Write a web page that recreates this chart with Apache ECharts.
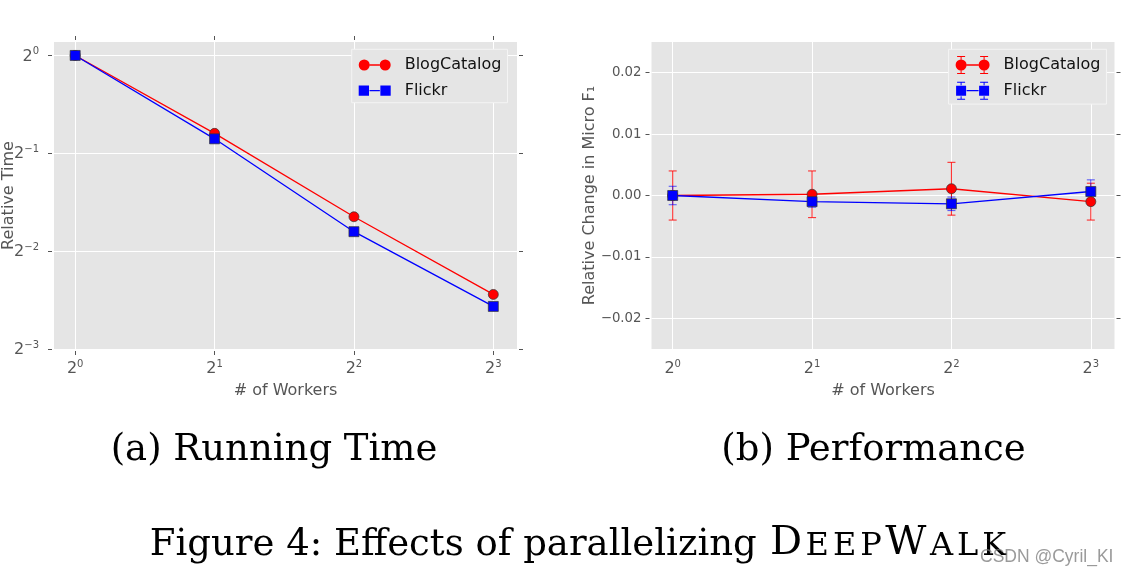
<!DOCTYPE html>
<html><head><meta charset="utf-8">
<script src="https://cdn.jsdelivr.net/npm/echarts@6/dist/echarts.min.js"></script>
<style>html,body{margin:0;padding:0;background:#fff}#c{width:1142px;height:578px}</style>
</head><body><div id="c"></div>
<script>
// ---------- data ----------
const workers = [1, 2, 4, 8];
const xTicks = [1, 2, 4, 8];
const timeTicks = [0.125, 0.25, 0.5, 1];
const f1Ticks = [-0.02, -0.01, 0, 0.01, 0.02];
const seriesNames = ['BlogCatalog', 'Flickr'];
const timeBlogCatalog = [1, 0.576, 0.319, 0.184];
const timeFlickr = [1, 0.554, 0.287, 0.169];
const f1BlogCatalog = [0, 0.0002, 0.0011, -0.0010];
const f1BlogCatalogErr = [0.0040, 0.0038, 0.0043, 0.0030];
const f1Flickr = [0, -0.0010, -0.00135, 0.00065];
const f1FlickrErr = [0.0015, 0.0009, 0.0011, 0.0019];
const panelCaptions = ['(a) Running Time', '(b) Performance'];
const xName = '# of Workers';
const yNames = ['Relative Time', 'Relative Change in Micro F\u2081'];
const figCaption = '{m|Figure 4: Effects of parallelizing }{c|D}{s|E}{s|E}{s|P}{c|W}{s|A}{s|L}{s|K}';
const watermark = 'CSDN @Cyril_KI';

// ---------- style ----------
const FONT = '"DejaVu Sans", sans-serif';
const SERIF = '"DejaVu Serif", serif';
const GRAY = '#555';
const RED = '#ff0000', BLUE = '#0000ff';

const pow2 = v => {
  const e = Math.round(Math.log2(v));
  return '{b|2}{s|' + (e < 0 ? '\u2212' + (-e) : e) + '}';
};
const powRich = {
  b: { fontSize: 16, color: GRAY, fontFamily: FONT, padding: [2, 0, 0, 0] },
  s: { fontSize: 10, color: GRAY, fontFamily: FONT, verticalAlign: 'top' }
};
const f1Fmt = v => (v < 0 ? '\u2212' : '') + Math.abs(v).toFixed(2);

function xAxisDef(gridIndex, pos) {
  const main = pos === 'bottom';
  return {
    type: 'log', logBase: 2, gridIndex, position: pos, min: 0.9, max: 9, offset: 2,
    axisLine: { show: false },
    axisTick: { show: true, inside: false, length: 4, lineStyle: { color: GRAY, width: 1 }, customValues: xTicks },
    axisLabel: { show: main, margin: 8, formatter: pow2, rich: powRich, customValues: xTicks },
    splitLine: { show: main, lineStyle: { color: '#ffffff', width: 1 } },
    name: main ? xName : '', nameLocation: 'middle', nameGap: 32, nameMoveOverlap: false,
    nameTextStyle: { fontSize: 16, color: GRAY, fontFamily: FONT }
  };
}
function yAxisDef(gridIndex, pos, kind) {
  const main = pos === 'left';
  const isTime = kind === 'time';
  const ticks = isTime ? timeTicks : f1Ticks;
  const base = isTime
    ? { type: 'log', logBase: 2, min: 0.125, max: 1.1 }
    : { type: 'value', min: -0.025, max: 0.025 };
  return Object.assign(base, {
    gridIndex, position: pos, offset: 2,
    axisLine: { show: false },
    axisTick: { show: true, inside: false, length: 4, lineStyle: { color: GRAY, width: 1 }, customValues: ticks },
    axisLabel: isTime
      ? { show: main, margin: 13, formatter: pow2, rich: powRich, customValues: ticks }
      : { show: main, margin: 8, formatter: f1Fmt, fontSize: 13.3, color: GRAY, fontFamily: FONT, customValues: ticks },
    splitLine: { show: main, lineStyle: { color: '#ffffff', width: 1 } },
    name: main ? yNames[isTime ? 0 : 1] : '', nameLocation: 'middle', nameGap: isTime ? 35 : 52, nameMoveOverlap: false,
    nameTextStyle: { fontSize: 16, color: GRAY, fontFamily: FONT }
  });
}

function errRender(color) {
  return function (params, api) {
    const x = api.value(0), y = api.value(1), e = api.value(2);
    const top = api.coord([x, y + e]), bot = api.coord([x, y - e]);
    const c = 4;
    const st = { stroke: color, lineWidth: 1.1, fill: null };
    return { type: 'group', children: [
      { type: 'line', shape: { x1: top[0], y1: top[1], x2: bot[0], y2: bot[1] }, style: st },
      { type: 'line', shape: { x1: top[0] - c, y1: top[1], x2: top[0] + c, y2: top[1] }, style: st },
      { type: 'line', shape: { x1: bot[0] - c, y1: bot[1], x2: bot[0] + c, y2: bot[1] }, style: st }
    ]};
  };
}

// legend icon paths (shape only)
function markerPath(kind, cx, cy) {
  if (kind === 'circle') {
    return 'M' + (cx - 5.5) + ',' + cy + 'a5.5,5.5 0 1,1 11,0a5.5,5.5 0 1,1 -11,0Z';
  }
  return 'M' + (cx - 5) + ',' + (cy - 5) + 'H' + (cx + 5) + 'V' + (cy + 5) + 'H' + (cx - 5) + 'Z';
}
function rect(x1, y1, x2, y2) { return 'M' + x1 + ',' + y1 + 'H' + x2 + 'V' + y2 + 'H' + x1 + 'Z'; }
function iconPlain(kind) {
  const cy = 6, a = 5.5, b = 26.5;
  return 'path://' + markerPath(kind, a, cy) + ' ' + markerPath(kind, b, cy) + ' ' +
    rect(a + 5.5, cy - 0.65, b - 5.5, cy + 0.65);
}
function iconErr(kind) {
  const cy = 9, a = 5.5, b = 28.5, h = 5.5;
  let p = markerPath(kind, a, cy) + ' ' + markerPath(kind, b, cy) + ' ' + rect(a + h, cy - 0.65, b - h, cy + 0.65);
  [a, b].forEach(x => {
    p += ' ' + rect(x - 4, 0, x + 4, 1) + ' ' + rect(x - 4, 17, x + 4, 18) +
         ' ' + rect(x - 0.5, 1, x + 0.5, cy - h) + ' ' + rect(x - 0.5, cy + h, x + 0.5, 17);
  });
  return 'path://' + p;
}

const pts = (xs, ys) => xs.map((x, i) => [x, ys[i]]);
const lineSeries = (name, xi, yi, data, color, symbol, z) => ({
  type: 'line', name, xAxisIndex: xi, yAxisIndex: yi, data,
  symbol, symbolSize: 10, z,
  lineStyle: { color, width: 1.3 },
  itemStyle: { color, borderColor: '#333', borderWidth: 0.7 },
  emphasis: { disabled: true }
});
const errSeries = (name, xi, yi, vals, errs, color) => ({
  type: 'custom', name, xAxisIndex: xi, yAxisIndex: yi,
  data: workers.map((w, i) => [w, vals[i], errs[i]]),
  encode: { x: 0, y: 1 }, renderItem: errRender(color), z: 1, silent: true,
  itemStyle: { color }
});

const gridBase = { show: true, backgroundColor: '#e5e5e5', borderWidth: 0, containLabel: false, outerBoundsMode: 'none' };
const legendBase = {
  orient: 'vertical', selectedMode: false, backgroundColor: '#e5e5e5',
  borderColor: '#f4f4f4', borderWidth: 1, borderRadius: 0,
  itemStyle: { borderWidth: 0 },
  textStyle: { fontSize: 16, color: '#111', fontFamily: FONT, padding: [0, 0, 0, 9] }
};

const capBase = { fill: '#000', align: 'center', verticalAlign: 'middle', textAlign: 'center', textVerticalAlign: 'middle' };
const scTok = (size, pad) => ({ fontSize: size, fontFamily: SERIF, color: '#000', fill: '#000', verticalAlign: 'bottom', padding: pad });

const option = {
  animation: false,
  backgroundColor: '#ffffff',
  textStyle: { fontFamily: FONT },
  grid: [
    Object.assign({ left: 54, top: 42, width: 463, height: 307 }, gridBase),
    Object.assign({ left: 651.5, top: 42, width: 463, height: 307 }, gridBase)
  ],
  xAxis: [xAxisDef(0, 'bottom'), xAxisDef(0, 'top'), xAxisDef(1, 'bottom'), xAxisDef(1, 'top')],
  yAxis: [yAxisDef(0, 'left', 'time'), yAxisDef(0, 'right', 'time'), yAxisDef(1, 'left', 'f1'), yAxisDef(1, 'right', 'f1')],
  legend: [
    Object.assign({}, legendBase, {
      left: 351.7, top: 49.3, padding: [7.7, 6, 4, 7], itemWidth: 32, itemHeight: 12, itemGap: 9.7,
      data: [{ name: seriesNames[0], icon: iconPlain('circle') }, { name: seriesNames[1], icon: iconPlain('rect') }]
    }),
    Object.assign({}, legendBase, {
      left: 948.6, top: 49.3, padding: [6.7, 6, 4.4, 7], itemWidth: 34, itemHeight: 18, itemGap: 7.7,
      data: [{ name: seriesNames[0], icon: iconErr('circle') }, { name: seriesNames[1], icon: iconErr('rect') }]
    })
  ],
  series: [
    lineSeries(seriesNames[0], 0, 0, pts(workers, timeBlogCatalog), RED, 'circle', 3),
    lineSeries(seriesNames[1], 0, 0, pts(workers, timeFlickr), BLUE, 'rect', 4),
    errSeries(seriesNames[0], 2, 2, f1BlogCatalog, f1BlogCatalogErr, 'rgba(255,0,0,0.8)'),
    errSeries(seriesNames[1], 2, 2, f1Flickr, f1FlickrErr, 'rgba(0,0,255,0.6)'),
    lineSeries(seriesNames[0], 2, 2, pts(workers, f1BlogCatalog), RED, 'circle', 3),
    lineSeries(seriesNames[1], 2, 2, pts(workers, f1Flickr), BLUE, 'rect', 4)
  ],
  graphic: [
    { type: 'text', x: 274, y: 450, z: 10, style: Object.assign({ text: panelCaptions[0], font: '37px ' + SERIF }, capBase) },
    { type: 'text', x: 873.5, y: 450, z: 10, style: Object.assign({ text: panelCaptions[1], font: '37px ' + SERIF }, capBase) },
    { type: 'text', x: 579, y: 544, z: 10, style: Object.assign({ text: figCaption, font: '37px ' + SERIF,
      rich: { m: scTok(37, [0, 0, 0, 0]), c: scTok(40, [0, 1.5, 0, 1.5]), s: scTok(32, [0, 2, 1, 2]) } }, capBase) },
    { type: 'text', x: 980, y: 557, z: 20, style: { text: watermark, font: '17.5px "Liberation Sans", Arial, sans-serif',
      fill: 'rgba(120,120,120,0.75)', align: 'left', verticalAlign: 'middle', textAlign: 'left', textVerticalAlign: 'middle' } }
  ]
};

const chart = echarts.init(document.getElementById('c'), null, { renderer: 'canvas' });
chart.setOption(option);
</script>
</body></html>
